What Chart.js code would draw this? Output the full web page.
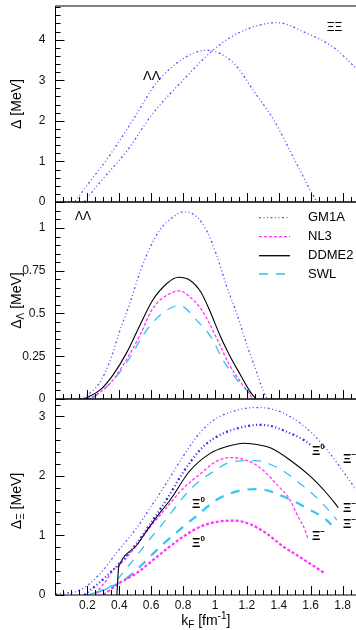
<!DOCTYPE html>
<html>
<head>
<meta charset="utf-8">
<script src="https://cdn.jsdelivr.net/npm/chart.js@4.4.1/dist/chart.umd.min.js"></script>
<style>
html, body { margin: 0; padding: 0; background: #fff; }
#wrap { position: relative; width: 356px; height: 630px; overflow: hidden; }
#wrap canvas { position: absolute; left: 0; }
</style>
</head>
<body>
<div id="wrap">
  <canvas id="p1" width="356" height="212" style="top:0px"></canvas>
  <canvas id="p2" width="356" height="217" style="top:192px"></canvas>
  <canvas id="p3" width="356" height="241" style="top:389px"></canvas>
</div>
<script>
// Pairing gaps vs Fermi momentum - three stacked panels

const models = ['GM1A', 'NL3', 'DDME2', 'SWL'];
const xTicks = [0.2, 0.4, 0.6, 0.8, 1, 1.2, 1.4, 1.6, 1.8];
const yTicks1 = [0, 1, 2, 3, 4];
const yTicks2 = [0, 0.25, 0.5, 0.75, 1];
const yTicks3 = [0, 1, 2, 3];

// panel 1: GM1A, LambdaLambda and XiXi
const kfLL1 = [0.12, 0.2, 0.34, 0.49, 0.63, 0.8, 0.95, 1.12, 1.24, 1.37, 1.49, 1.61, 1.64];
const gapLL1 = [0, 0.42, 1.15, 2.05, 2.92, 3.53, 3.74, 3.41, 2.75, 2.01, 1.11, 0.2, 0];
const kfXX1 = [0.18, 0.28, 0.45, 0.61, 0.78, 0.99, 1.16, 1.39, 1.58, 1.74, 1.884];
const gapXX1 = [0, 0.49, 1.27, 2.18, 2.92, 3.75, 4.19, 4.42, 4.15, 3.82, 3.30];

// panel 2: Lambda gaps
const kfGM2 = [0.15, 0.2, 0.28, 0.34, 0.40, 0.47, 0.53, 0.59, 0.655, 0.74, 0.80, 0.885, 0.95, 1.01, 1.07, 1.14, 1.20, 1.26, 1.30, 1.335, 1.45];
const gapGM2 = [0, 0.023, 0.10, 0.218, 0.39, 0.57, 0.744, 0.88, 0.99, 1.066, 1.095, 1.066, 0.98, 0.842, 0.667, 0.49, 0.316, 0.16, 0.053, 0, 0];
const kfNL2 = [0.2, 0.28, 0.36, 0.45, 0.53, 0.61, 0.70, 0.78, 0.84, 0.91, 0.97, 1.03, 1.09, 1.16, 1.22, 1.24];
const gapNL2 = [0, 0.04, 0.11, 0.238, 0.374, 0.53, 0.608, 0.632, 0.598, 0.53, 0.433, 0.316, 0.2, 0.1, 0.023, 0];
const kfDD2 = [0.18, 0.28, 0.36, 0.45, 0.53, 0.61, 0.70, 0.77, 0.84, 0.91, 0.97, 1.03, 1.09, 1.16, 1.22, 1.257];
const gapDD2 = [0, 0.053, 0.14, 0.277, 0.433, 0.579, 0.677, 0.712, 0.696, 0.627, 0.51, 0.374, 0.257, 0.14, 0.043, 0];
const kfSW2 = [0.22, 0.26, 0.38, 0.47, 0.55, 0.655, 0.78, 0.885, 0.98, 1.05, 1.14, 1.23, 1.25];
const gapSW2 = [0, 0.023, 0.13, 0.247, 0.374, 0.49, 0.546, 0.46, 0.355, 0.228, 0.11, 0.023, 0];

// panel 3: Xi gaps (m = Xi-, 0 = Xi0)
const kfGMm3 = [0.0, 0.15, 0.28, 0.38, 0.51, 0.59, 0.70, 0.80, 0.91, 1.01, 1.16, 1.25, 1.35, 1.47, 1.60, 1.72, 1.85, 1.884];
const gapGMm3 = [0.02, 0.08, 0.36, 0.70, 1.13, 1.45, 1.90, 2.33, 2.74, 2.97, 3.12, 3.15, 3.13, 3.0, 2.74, 2.38, 1.90, 1.77];
const kfGM03 = [0.18, 0.28, 0.36, 0.40, 0.51, 0.59, 0.70, 0.80, 0.91, 1.01, 1.14, 1.28, 1.35, 1.47, 1.56, 1.60];
const gapGM03 = [0, 0.22, 0.42, 0.53, 0.87, 1.18, 1.62, 2.06, 2.45, 2.66, 2.80, 2.86, 2.84, 2.72, 2.60, 2.52];
const kfDD3 = [0.385, 0.395, 0.40, 0.51, 0.59, 0.66, 0.72, 0.84, 0.97, 1.07, 1.18, 1.28, 1.35, 1.47, 1.60, 1.70, 1.773];
const gapDD3 = [0, 0.45, 0.50, 0.84, 1.15, 1.40, 1.60, 2.08, 2.38, 2.49, 2.55, 2.52, 2.47, 2.27, 1.99, 1.71, 1.47];
const kfNLm3 = [0.25, 0.32, 0.36, 0.40, 0.51, 0.59, 0.70, 0.80, 0.91, 1.01, 1.10, 1.22, 1.30, 1.39, 1.47, 1.52, 1.555, 1.585];
const gapNLm3 = [0.02, 0.25, 0.42, 0.50, 0.84, 1.13, 1.48, 1.79, 2.04, 2.25, 2.31, 2.24, 2.10, 1.85, 1.60, 1.32, 1.15, 0.93];
const kfNL03 = [0.30, 0.40, 0.51, 0.59, 0.70, 0.80, 0.91, 1.01, 1.12, 1.22, 1.32, 1.43, 1.53, 1.64, 1.69];
const gapNL03 = [0, 0.20, 0.37, 0.54, 0.78, 0.98, 1.15, 1.23, 1.25, 1.19, 1.04, 0.81, 0.64, 0.45, 0.36];
const kfSWm3 = [0.20, 0.34, 0.47, 0.57, 0.66, 0.85, 0.97, 1.11, 1.25, 1.40, 1.52, 1.64, 1.74, 1.763];
const gapSWm3 = [0, 0.14, 0.53, 0.87, 1.16, 1.79, 2.04, 2.24, 2.26, 2.13, 1.90, 1.63, 1.34, 1.26];
const kfSW03 = [0.25, 0.43, 0.55, 0.66, 0.78, 0.89, 1.01, 1.15, 1.27, 1.45, 1.575, 1.70, 1.73];
const gapSW03 = [0.03, 0.25, 0.53, 0.82, 1.10, 1.34, 1.60, 1.75, 1.78, 1.63, 1.46, 1.26, 1.18];

const cGM = '#5656ff', cNL = '#ff33ff', cDD = '#000000', cSW = '#33c4f0';
const dGM = [2, 2.5, 1, 2.5, 1, 2.5], dNL = [3, 2], dDD = [], dSW = [9, 8];
const FONT = '"Liberation Sans", Arial, Helvetica, sans-serif';

function series(kf, gap, color, width, dash) {
    return {
        data: kf.map((k, i) => ({ x: k, y: gap[i] })),
        borderColor: color,
        borderWidth: width,
        borderDash: dash,
        pointRadius: 0,
        fill: false,
        cubicInterpolationMode: 'monotone'
    };
}

function fontStr(p) {
    return (p.bold ? 'bold ' : '') + p.size + 'px ' + FONT;
}

// draw a run of text pieces (for sub/superscripts)
function drawParts(ctx, parts, x, y, center) {
    let w = 0;
    parts.forEach(p => { ctx.font = fontStr(p); w += ctx.measureText(p.t).width; });
    let cx = center ? x - w / 2 : x;
    parts.forEach(p => {
        ctx.font = fontStr(p);
        ctx.fillText(p.t, cx, y + (p.dy || 0));
        cx += ctx.measureText(p.t).width;
    });
}

// frame, inward ticks, titles, labels and legend
const framePlugin = {
    id: 'frame',
    afterDatasetsDraw(chart, args, o) {
        const ctx = chart.ctx;
        const a = chart.chartArea;
        const xs = chart.scales.x, ys = chart.scales.y;
        ctx.save();
        ctx.strokeStyle = '#000';
        ctx.lineWidth = 1;
        ctx.setLineDash([]);
        ctx.beginPath();
        ctx.moveTo(a.left, a.top); ctx.lineTo(a.right, a.top);
        ctx.moveTo(a.left, a.top); ctx.lineTo(a.left, a.bottom); ctx.lineTo(a.right, a.bottom);
        for (let i = 0; i * o.yMinor <= ys.max + 1e-9; i++) {
            const py = Math.round(ys.getPixelForValue(i * o.yMinor)) + 0.5;
            const len = i % o.yPer === 0 ? 9 : 5;
            ctx.moveTo(a.left, py); ctx.lineTo(a.left + len, py);
        }
        for (let i = 1; i * 0.05 <= xs.max; i++) {
            const px = Math.round(xs.getPixelForValue(i * 0.05)) + 0.5;
            const len = i % 4 === 0 ? 9 : 5;
            ctx.moveTo(px, a.bottom); ctx.lineTo(px, a.bottom - len);
        }
        ctx.stroke();

        ctx.fillStyle = '#000';
        ctx.textAlign = 'left';
        ctx.textBaseline = 'alphabetic';
        // y title, rotated
        ctx.save();
        ctx.translate(16, (a.top + a.bottom) / 2 + (o.titleDy || 0));
        ctx.rotate(-Math.PI / 2);
        drawParts(ctx, o.yTitle, 0, 5, true);
        ctx.restore();
        if (o.xTitle) drawParts(ctx, o.xTitle, (a.left + a.right) / 2, o.xTitleY, true);

        (o.labels || []).forEach(l => {
            drawParts(ctx, l.parts, xs.getPixelForValue(l.x), ys.getPixelForValue(l.y), false);
        });

        if (o.legend) {
            ctx.textBaseline = 'middle';
            o.legend.forEach((item, i) => {
                const ds = chart.data.datasets[item.ds];
                ctx.strokeStyle = ds.borderColor;
                ctx.lineWidth = 1.3;
                ctx.setLineDash(ds.borderDash);
                ctx.beginPath();
                ctx.moveTo(259, item.y); ctx.lineTo(290, item.y);
                ctx.stroke();
                ctx.font = '13px ' + FONT;
                ctx.fillText(models[i], 308, item.y);
            });
        }
        ctx.restore();
    }
};

function makeChart(id, datasets, yMax, yTicks, padTop, xHeight, showX, frame) {
    return new Chart(document.getElementById(id), {
        type: 'line',
        data: { datasets: datasets },
        options: {
            responsive: false,
            animation: false,
            events: [],
            layout: { padding: { top: padTop, left: 0, right: 0, bottom: 0 } },
            plugins: { legend: { display: false }, tooltip: { enabled: false }, frame: frame },
            scales: {
                x: {
                    type: 'linear', min: 0, max: 1.884,
                    afterBuildTicks: s => { s.ticks = xTicks.map(v => ({ value: v })); },
                    afterFit: s => { s.height = xHeight; s.paddingLeft = 0; s.paddingRight = 0; },
                    grid: { display: false, drawTicks: false },
                    border: { display: false },
                    ticks: {
                        display: showX, autoSkip: false, maxRotation: 0, padding: 3,
                        color: '#111', font: { family: FONT, size: 12 },
                        callback: v => String(v)
                    }
                },
                y: {
                    type: 'linear', min: 0, max: yMax,
                    afterBuildTicks: s => { s.ticks = yTicks.map(v => ({ value: v })); },
                    afterFit: s => { s.width = 55.5; s.paddingTop = 0; s.paddingBottom = 0; },
                    grid: { display: false, drawTicks: false },
                    border: { display: false },
                    ticks: {
                        padding: 10, color: '#111', font: { family: FONT, size: 12 },
                        callback: v => String(v)
                    }
                }
            }
        },
        plugins: [framePlugin]
    });
}

// panel 1
makeChart('p1', [
    series(kfLL1, gapLL1, cGM, 1.3, dGM),
    series(kfXX1, gapXX1, cGM, 1.3, dGM)
], 4.83, yTicks1, 6, 10, false, {
    yMinor: 0.2, yPer: 5,
    yTitle: [{ t: 'Δ [MeV]', size: 14 }],
    labels: [
        { parts: [{ t: 'ΛΛ', size: 13 }], x: 0.549, y: 3.0 },
        { parts: [{ t: 'ΞΞ', size: 12 }], x: 1.70, y: 4.21 }
    ]
});

// panel 2
makeChart('p2', [
    series(kfGM2, gapGM2, cGM, 1.3, dGM),
    series(kfNL2, gapNL2, cNL, 1.3, dNL),
    series(kfDD2, gapDD2, cDD, 1.1, dDD),
    series(kfSW2, gapSW2, cSW, 1.3, dSW)
], 1.152, yTicks2, 10, 10, false, {
    yMinor: 0.05, yPer: 5,
    yTitle: [{ t: 'Δ', size: 14 }, { t: 'Λ', size: 10, dy: 3 }, { t: ' [MeV]', size: 14 }],
    labels: [{ parts: [{ t: 'ΛΛ', size: 12 }], x: 0.122, y: 1.047 }],
    legend: [{ ds: 0, y: 25.7 }, { ds: 1, y: 44.7 }, { ds: 2, y: 63.7 }, { ds: 3, y: 82 }]
});

// panel 3
const sup0 = t => [{ t: 'Ξ', size: 13, bold: true }, { t: t, size: 8, bold: true, dy: -6 }];
makeChart('p3', [
    series(kfGMm3, gapGMm3, cGM, 1.3, dGM),
    series(kfGM03, gapGM03, '#2c2cf0', 2.2, dGM),
    series(kfDD3, gapDD3, cDD, 1.1, dDD),
    series(kfNLm3, gapNLm3, cNL, 1.3, dNL),
    series(kfNL03, gapNL03, cNL, 2.2, dNL),
    series(kfSWm3, gapSWm3, cSW, 1.3, dSW),
    series(kfSW03, gapSW03, cSW, 2.2, dSW)
], 3.294, yTicks3, 10, 35, true, {
    yMinor: 0.2, yPer: 5, titleDy: 4,
    yTitle: [{ t: 'Δ', size: 14 }, { t: 'Ξ', size: 10, dy: 3 }, { t: ' [MeV]', size: 14 }],
    xTitle: [{ t: 'k', size: 14 }, { t: 'F', size: 10, dy: 3 }, { t: ' [fm', size: 14 },
             { t: '-1', size: 10, dy: -6 }, { t: ']', size: 14 }],
    xTitleY: 236,
    labels: [
        { parts: sup0('0'), x: 0.856, y: 1.46 },
        { parts: sup0('0'), x: 0.856, y: 0.81 },
        { parts: sup0('0'), x: 1.608, y: 2.35 },
        { parts: sup0('−'), x: 1.608, y: 0.92 },
        { parts: sup0('−'), x: 1.803, y: 2.22 },
        { parts: sup0('−'), x: 1.803, y: 1.39 },
        { parts: sup0('−'), x: 1.803, y: 1.13 }
    ]
});
</script>
</body>
</html>
